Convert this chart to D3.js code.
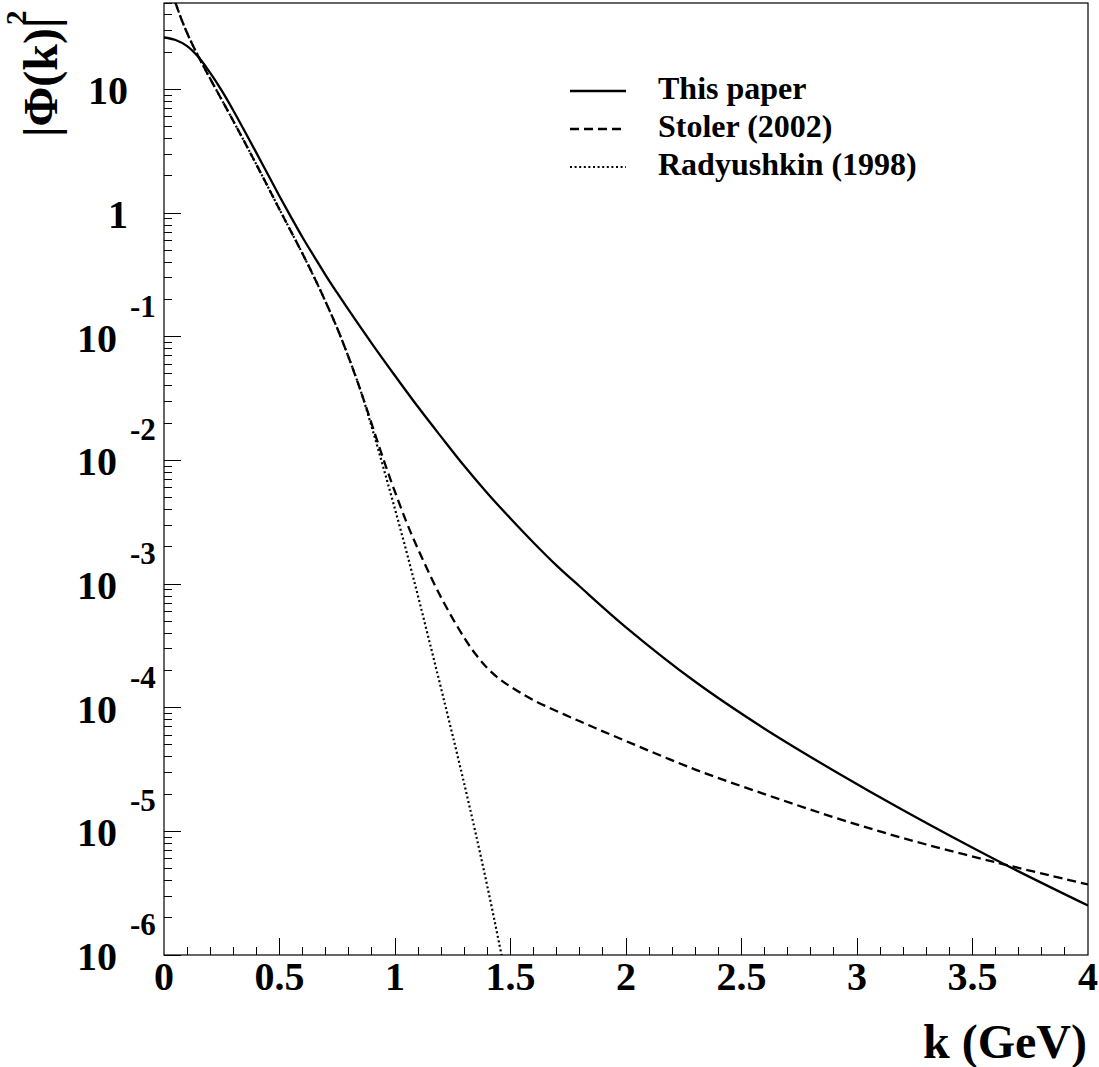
<!DOCTYPE html>
<html>
<head>
<meta charset="utf-8">
<script src="https://cdn.jsdelivr.net/npm/d3@7"></script>
<style>
  body { margin: 0; background: #fff; }
  svg text { font-family: "Liberation Serif", "Times New Roman", serif; font-weight: bold; fill: #000; }
</style>
</head>
<body>
<svg id="chart" width="1099" height="1067"></svg>
<script>
// |Phi(k)|^2 curves
const thisK = [0, 0.05, 0.1, 0.15, 0.2, 0.25, 0.3, 0.35, 0.4, 0.45, 0.5, 0.55, 0.6, 0.65, 0.7, 0.75, 0.8, 0.9, 1.0, 1.1, 1.2, 1.3, 1.4, 1.5, 1.6, 1.7, 1.8, 2.0, 2.3, 2.6, 2.9, 3.2, 3.6, 4.0]
const thisVal = [26.3, 25.1, 22.4, 18.2, 13.6, 9.77, 6.76, 4.57, 3.07, 2.05, 1.37, 0.927, 0.635, 0.445, 0.314, 0.226, 0.164, 0.0881, 0.0484, 0.0270, 0.0155, 9.0e-3, 5.43e-3, 3.39e-3, 2.16e-3, 1.41e-3, 9.55e-4, 4.47e-4, 1.62e-4, 6.76e-5, 3.09e-5, 1.48e-5, 5.89e-6, 2.51e-6]

const stolerK = [0, 0.05, 0.1, 0.15, 0.2, 0.3, 0.4, 0.5, 0.6, 0.65, 0.7, 0.75, 0.8, 0.85, 0.9, 0.95, 1.0, 1.05, 1.1, 1.2, 1.3, 1.35, 1.4, 1.45, 1.5, 1.6, 1.8, 2.0, 2.3, 2.6, 2.9, 3.2, 3.6, 4.0]
const stolerVal = [107, 50.1, 28.6, 18.3, 12.2, 5.56, 2.47, 1.07, 0.468, 0.303, 0.191, 0.117, 0.0676, 0.0372, 0.0195, 0.0102, 5.56e-3, 3.16e-3, 1.91e-3, 7.76e-4, 3.67e-4, 2.69e-4, 2.09e-4, 1.72e-4, 1.48e-4, 1.15e-4, 7.76e-5, 5.37e-5, 3.16e-5, 2.0e-5, 1.30e-5, 8.81e-6, 5.62e-6, 3.72e-6]

const radK = [0, 0.05, 0.1, 0.15, 0.2, 0.3, 0.4, 0.5, 0.6, 0.65, 0.7, 0.75, 0.8, 0.85, 0.9, 0.95, 1.0, 1.05, 1.1, 1.15, 1.2, 1.25, 1.3, 1.35, 1.4, 1.45, 1.5]
const radVal = [107, 50.1, 28.6, 18.3, 12.2, 5.56, 2.47, 1.07, 0.468, 0.303, 0.191, 0.117, 0.0676, 0.0372, 0.0184, 8.71e-3, 4.03e-3, 1.82e-3, 7.94e-4, 3.37e-4, 1.42e-4, 5.92e-5, 2.41e-5, 9.5e-6, 3.57e-6, 1.27e-6, 4.27e-7]

const seriesNames = ['This paper', 'Stoler (2002)', 'Radyushkin (1998)']
const xTickLabels = ['0', '0.5', '1', '1.5', '2', '2.5', '3', '3.5', '4']
const yExponents = [-6, -5, -4, -3, -2, -1, 0, 1]

const W = 1099, H = 1067
const m = { left: 164, right: 11, top: 3, bottom: 112 }

const svg = d3.select('#chart')
const x = d3.scaleLinear().domain([0, 4]).range([m.left, W - m.right])
const y = d3.scaleLog().domain([1e-6, 50]).range([H - m.bottom, m.top])

const styles = [
  { dash: null, width: 2.3 },
  { dash: '9,5', width: 2.3 },
  { dash: '2,2.6', width: 2.2 }
]

svg.append('defs').append('clipPath').attr('id', 'plotclip')
  .append('rect')
  .attr('x', m.left).attr('y', m.top)
  .attr('width', W - m.left - m.right).attr('height', H - m.top - m.bottom)

// ticks: drawn inward from the left and bottom edges
const g = svg.append('g').attr('stroke', '#000').attr('stroke-width', 1).attr('shape-rendering', 'crispEdges')
const xMinor = d3.range(1, 40).map(i => i / 10)
g.selectAll('.xt').data(xMinor).enter().append('line')
  .attr('x1', d => x(d)).attr('x2', d => x(d))
  .attr('y1', y(1e-6))
  .attr('y2', (d, i) => y(1e-6) - ((i + 1) % 5 === 0 ? 17 : 8))

const yMinor = []
yExponents.forEach(e => {
  for (let j = 1; j <= 9; j++) {
    const v = j * Math.pow(10, e)
    if (v >= 1e-6 && v <= 50) yMinor.push({ v, major: j === 1 })
  }
})
g.selectAll('.yt').data(yMinor).enter().append('line')
  .attr('x1', x(0)).attr('x2', d => x(0) + (d.major ? 17 : 8))
  .attr('y1', d => y(d.v)).attr('y2', d => y(d.v))

// frame
svg.append('rect')
  .attr('x', m.left).attr('y', m.top)
  .attr('width', W - m.left - m.right).attr('height', H - m.top - m.bottom)
  .attr('fill', 'none').attr('stroke', '#000').attr('stroke-width', 1.2)

// x labels
svg.selectAll('.xl').data(xTickLabels).enter().append('text')
  .attr('x', d => x(+d)).attr('y', 990)
  .attr('text-anchor', 'middle').style('font-size', '40px')
  .text(d => d)

// y labels
yExponents.forEach(e => {
  const yy = y(Math.pow(10, e))
  if (e === 0 || e === 1) {
    svg.append('text').attr('x', 128).attr('y', yy + 15)
      .attr('text-anchor', 'end').style('font-size', '40px')
      .text(e === 0 ? '1' : '10')
  } else {
    svg.append('text').attr('x', 117).attr('y', yy + 15)
      .attr('text-anchor', 'end').style('font-size', '40px').text('10')
    svg.append('text').attr('x', 130).attr('y', yy - 20)
      .attr('text-anchor', 'start').style('font-size', '31px').text(String(e))
  }
})

// axis titles
svg.append('text').attr('x', 1087).attr('y', 1058)
  .attr('text-anchor', 'end').style('font-size', '48px').text('k (GeV)')
svg.append('text').attr('transform', 'translate(57,137) rotate(-90)')
  .attr('text-anchor', 'start').style('font-size', '48px').text('|\u03A6(k)|')
svg.append('text').attr('transform', 'translate(26,25) rotate(-90)')
  .attr('text-anchor', 'start').style('font-size', '29px').text('2')

// curves
const line = d3.line().x(d => x(d[0])).y(d => y(d[1])).curve(d3.curveCatmullRom.alpha(0.5))
const series = [
  d3.zip(thisK, thisVal),
  d3.zip(stolerK, stolerVal),
  d3.zip(radK, radVal)
]
svg.append('g').attr('clip-path', 'url(#plotclip)')
  .selectAll('path').data(series).enter().append('path')
  .attr('d', line)
  .attr('fill', 'none').attr('stroke', '#000')
  .attr('stroke-width', (d, i) => styles[i].width)
  .attr('stroke-dasharray', (d, i) => styles[i].dash)

// legend
const leg = svg.append('g').selectAll('g').data(seriesNames).enter().append('g')
  .attr('transform', (d, i) => 'translate(0,' + (99 + i * 38) + ')')
leg.append('line')
  .attr('x1', 570).attr('x2', 626).attr('y1', -8).attr('y2', -8)
  .attr('stroke', '#000')
  .attr('stroke-width', (d, i) => styles[i].width)
  .attr('stroke-dasharray', (d, i) => styles[i].dash)
leg.append('text').attr('x', 658).attr('y', 0)
  .style('font-size', '32px').text(d => d)
</script>
</body>
</html>
